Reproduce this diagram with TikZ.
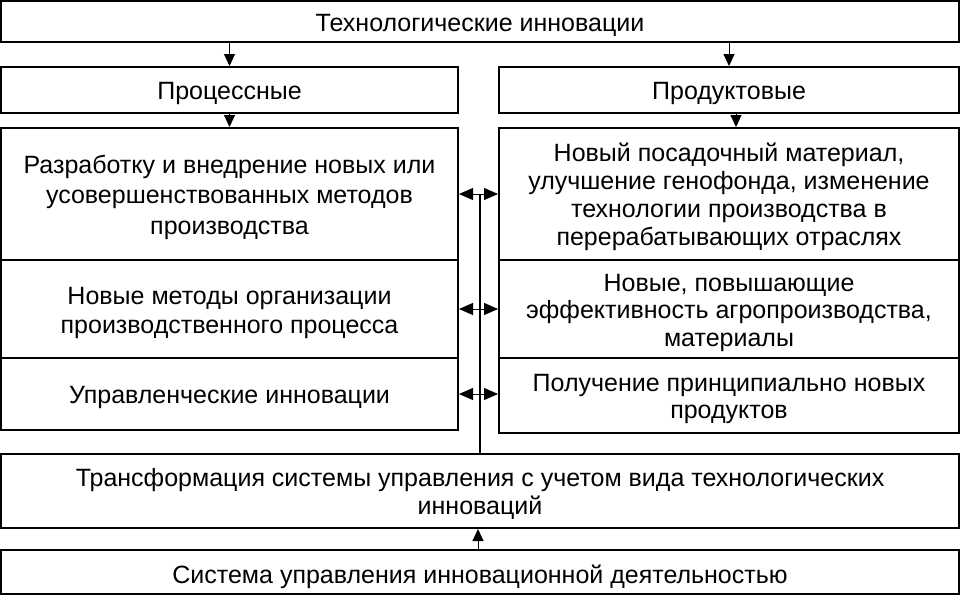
\documentclass[tikz,border=0pt]{standalone}
\usepackage{fontspec}
\setmainfont{Liberation Sans}
\usetikzlibrary{arrows.meta}
\newcommand{\tstr}{\rule{0pt}{27pt}}
\newcommand{\bstr}{\rule[-8pt]{0pt}{8pt}}
\begin{document}
\begin{tikzpicture}[x=1pt,y=-1pt,
  box/.style={draw, line width=2pt, rectangle, inner sep=0pt, align=center,
    font=\fontsize{25}{29}\selectfont},
  arr/.style={line width=1pt, -{Triangle[length=12pt,width=11pt]}},
  arrboth/.style={line width=1pt, {Triangle[length=14pt,width=12pt]}-{Triangle[length=14pt,width=12pt]}},
  conn/.style={line width=2pt}]
\useasboundingbox (0,0) rectangle (960,595);
\node[box, minimum width=958pt, minimum height=41pt] (top) at (480,21.5) {\tstr Технологические инновации\bstr};
\node[box, minimum width=457pt, minimum height=46pt] (proc) at (229.5,90) {\tstr Процессные\bstr};
\node[box, minimum width=460pt, minimum height=46pt] (prod) at (729,90) {\tstr Продуктовые\bstr};
\node[box, minimum width=457pt, minimum height=132pt, font=\fontsize{25}{30.5}\selectfont] (L1) at (229.5,194) {\tstr Разработку и внедрение новых или\\усовершенствованных методов\\производства\bstr};
\node[box, minimum width=457pt, minimum height=98pt] (L2) at (229.5,309) {\tstr Новые методы организации\\производственного процесса\bstr};
\node[box, minimum width=457pt, minimum height=72pt] (L3) at (229.5,394) {\tstr Управленческие инновации\bstr};
\node[box, minimum width=460pt, minimum height=132pt, font=\fontsize{25}{27.7}\selectfont] (R1) at (729,194) {\tstr Новый посадочный материал,\\улучшение генофонда, изменение\\технологии производства в\\перерабатывающих отраслях\bstr};
\node[box, minimum width=460pt, minimum height=98pt, font=\fontsize{25}{27.5}\selectfont] (R2) at (729,309) {\tstr Новые, повышающие\\эффективность агропроизводства,\\материалы\bstr};
\node[box, minimum width=460pt, minimum height=75pt, font=\fontsize{25}{27.5}\selectfont] (R3) at (729,395.5) {\tstr Получение принципиально новых\\продуктов\bstr};
\node[box, minimum width=958pt, minimum height=74pt, font=\fontsize{25}{28}\selectfont] (T) at (480,491) {\tstr Трансформация системы управления с учетом вида технологических\\инноваций\bstr};
\node[box, minimum width=958pt, minimum height=44pt] (B) at (480,572) {\rule{0pt}{31pt}Система управления инновационной деятельностью\bstr};
\draw[arr] (top.south -| proc.north) -- (proc.north);
\draw[arr] (top.south -| prod.north) -- (prod.north);
\draw[arr] (proc.south) -- (L1.north -| proc.south);
\draw[arr] ([xshift=7pt]prod.south) -- ([xshift=7pt]R1.north);
\draw[conn] (T.north) -- (T.north |- L1.east);
\draw[arrboth] (L1.east) -- (L1.east -| R1.west);
\draw[arrboth] (L2.east) -- (L2.east -| R2.west);
\draw[arrboth] (L3.east) -- (L3.east -| R3.west);
\draw[arr] ([xshift=-2pt]B.north) -- ([xshift=-2pt]T.south);
\end{tikzpicture}
\end{document}
